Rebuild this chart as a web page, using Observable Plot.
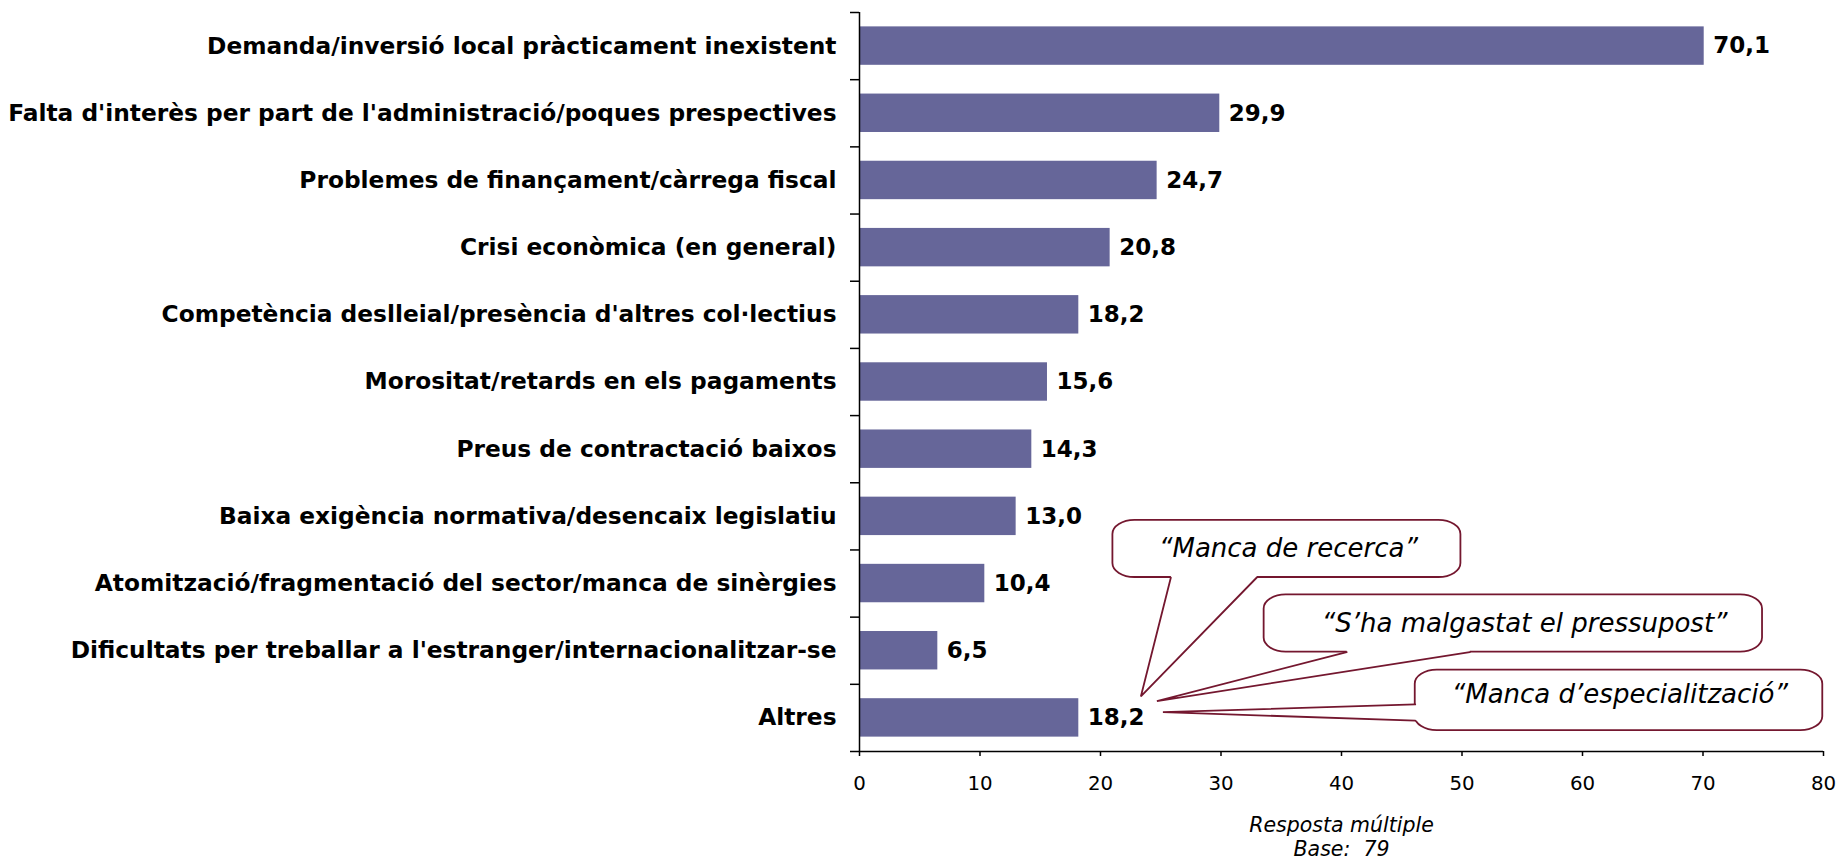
<!DOCTYPE html>
<html>
<head>
<meta charset="utf-8">
<script src="https://cdn.jsdelivr.net/npm/d3@7"></script>
<script src="https://cdn.jsdelivr.net/npm/@observablehq/plot@0.6"></script>
<style>
  html, body { margin: 0; padding: 0; background: #fff; }
  #chart svg { display: block; }
</style>
</head>
<body>
<div id="chart"></div>
<script>
// ---- data ----
const categories = [
  "Demanda/inversió local pràcticament inexistent",
  "Falta d'interès per part de l'administració/poques prespectives",
  "Problemes de finançament/càrrega fiscal",
  "Crisi econòmica (en general)",
  "Competència deslleial/presència d'altres col·lectius",
  "Morositat/retards en els pagaments",
  "Preus de contractació baixos",
  "Baixa exigència normativa/desencaix legislatiu",
  "Atomització/fragmentació del sector/manca de sinèrgies",
  "Dificultats per treballar a l'estranger/internacionalitzar-se",
  "Altres"
];
const values = [70.1, 29.9, 24.7, 20.8, 18.2, 15.6, 14.3, 13.0, 10.4, 6.5, 18.2];
const xTicks = [0, 10, 20, 30, 40, 50, 60, 70, 80];
const captionLines = ["Resposta múltiple", "Base:\u00a0 79"];
const calloutTexts = ["“Manca de recerca”", "“S’ha malgastat el pressupost”", "“Manca d’especialització”"];

// callout annotation geometry (x in value units, y in category-index units)
const calloutBoxes = [
  {x1: 21.03, x2: 49.91, y1: 7.06, y2: 7.91, tx: 35.6, ty: 7.48},
  {x1: 33.58, x2: 74.94, y1: 8.17, y2: 9.02, tx: 55.2, ty: 8.59},
  {x1: 46.12, x2: 79.94, y1: 9.29, y2: 10.19, tx: 63.1, ty: 9.66}
];
const calloutTails = [
  {b1: [25.84, 7.91], tip: [23.35, 9.68], b2: [32.97, 7.91], edge: "bottom"},
  {b1: [40.43, 9.02], tip: [24.68, 9.75], b2: [50.65, 9.02], edge: "bottom"},
  {b1: [46.12, 9.80], tip: [25.18, 9.915], b2: [46.12, 10.04], edge: "left"}
];

// ---- derived tables ----
const bars = categories.map((c, i) => ({i, category: c, value: values[i]}));
const fmt = v => v.toFixed(1).replace(".", ",");
const indices = categories.map((_, i) => i);
const boundaries = d3.range(categories.length + 1).map(k => k - 0.5);
const boxes = calloutBoxes.map((b, k) => ({...b, text: calloutTexts[k]}));

const tailStroke = [];
const tailFill = [];
calloutTails.forEach((t, k) => {
  const pts = [t.b1, t.tip, t.b2];
  pts.forEach(p => tailStroke.push({id: k, x: p[0], y: p[1]}));
  const inward = t.edge === "bottom" ? [0, -0.06] : [0.4, 0];
  [t.b1, t.tip, t.b2,
   [t.b2[0] + inward[0], t.b2[1] + inward[1]],
   [t.b1[0] + inward[0], t.b1[1] + inward[1]]
  ].forEach(p => tailFill.push({id: k, x: p[0], y: p[1]}));
});

const barColor = "#666699";
const calloutColor = "#74172f";
const halfBar = 0.286;

const chart = Plot.plot({
  width: 1841,
  height: 865,
  marginLeft: 859,
  marginRight: 18,
  marginTop: 12,
  marginBottom: 114,
  style: {fontFamily: "'DejaVu Sans', Verdana, sans-serif", background: "#fff", color: "#000"},
  x: {domain: [0, 80]},
  y: {domain: [categories.length - 0.5, -0.5]},
  marks: [
    Plot.rect(bars, {
      x1: 0, x2: "value",
      y1: d => d.i - halfBar, y2: d => d.i + halfBar,
      fill: barColor
    }),
    Plot.text(bars, {
      x: "value", y: "i", text: d => fmt(d.value),
      textAnchor: "start", dx: 9, fontSize: 23, fontWeight: "bold", fill: "#000"
    }),
    // axis lines
    Plot.ruleX([0], {stroke: "#000", strokeWidth: 1.5}),
    Plot.ruleY([categories.length - 0.5], {stroke: "#000", strokeWidth: 1.5}),
    // y-axis ticks at category boundaries
    Plot.axisY(boundaries, {tickSize: 9, tickFormat: () => "", stroke: "#000", strokeWidth: 1.5}),
    // y-axis category labels
    Plot.axisY(indices, {
      tickSize: 0, tickPadding: 23, tickFormat: i => categories[i],
      fontSize: 23.3, fontWeight: "bold", fill: "#000"
    }),
    // x-axis
    Plot.axisX(xTicks, {
      tickSize: 5, tickPadding: 19, tickFormat: d => String(d),
      fontSize: 19.8, stroke: "#000", strokeWidth: 1.5, fill: "#000"
    }),
    // callouts
    Plot.rect(boxes, {
      x1: "x1", x2: "x2", y1: "y1", y2: "y2",
      fill: "#fff", stroke: calloutColor, strokeWidth: 1.8, rx: 22, ry: 14
    }),
    Plot.line(tailFill, {x: "x", y: "y", z: "id", fill: "#fff", stroke: "none"}),
    Plot.line(tailStroke, {x: "x", y: "y", z: "id", stroke: calloutColor, strokeWidth: 1.8, strokeLinejoin: "miter"}),
    Plot.text(boxes, {
      x: "tx", y: "ty", text: "text",
      fontSize: 26, fontStyle: "italic", fill: "#000"
    }),
    // caption
    Plot.text([captionLines.join("\n")], {
      frameAnchor: "bottom", lineAnchor: "top", dy: 64, lineHeight: 1.15,
      fontSize: 20.5, fontStyle: "italic", fill: "#000"
    })
  ]
});

document.getElementById("chart").appendChild(chart);
</script>
</body>
</html>
